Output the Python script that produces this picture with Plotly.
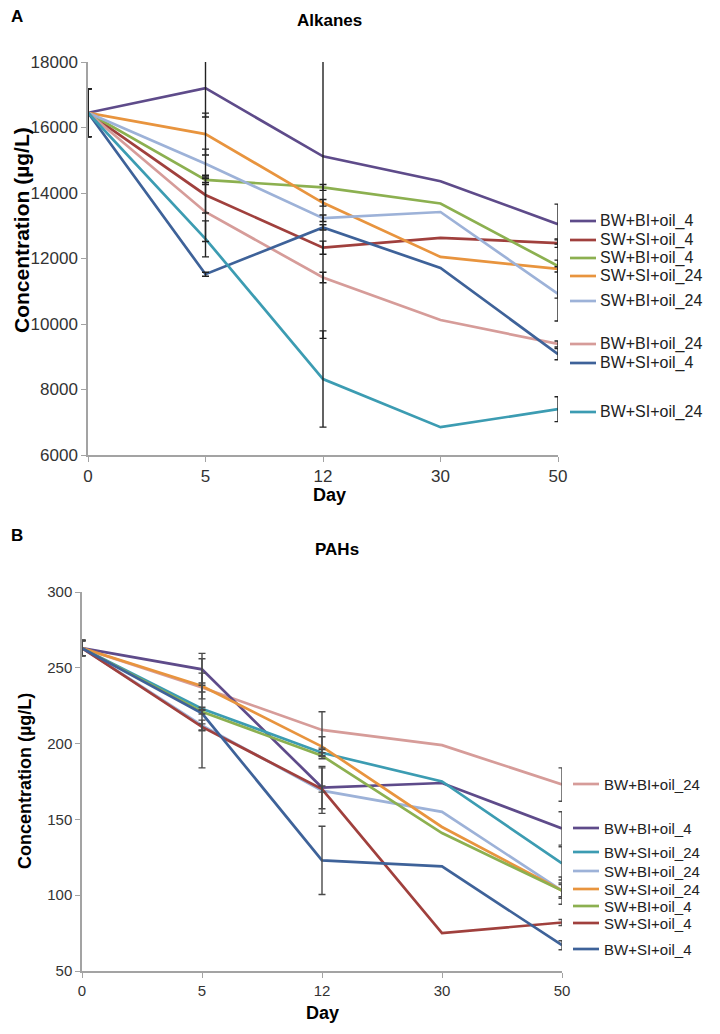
import plotly.graph_objects as go

# ---------------- data ----------------
days = ["0", "5", "12", "30", "50"]

# Panel A: Alkanes (µg/L)
a_names = ["BW+BI+oil_4", "SW+SI+oil_4", "SW+BI+oil_4", "SW+SI+oil_24",
           "SW+BI+oil_24", "BW+BI+oil_24", "BW+SI+oil_4", "BW+SI+oil_24"]
a_bw_bi_4 = [16450, 17200, 15120, 14360, 13050]
a_sw_si_4 = [16450, 13940, 12330, 12630, 12470]
a_sw_bi_4 = [16450, 14400, 14170, 13680, 11770]
a_sw_si_24 = [16450, 15800, 13700, 12050, 11680]
a_sw_bi_24 = [16450, 14890, 13230, 13420, 10920]
a_bw_bi_24 = [16450, 13420, 11420, 10120, 9390]
a_bw_si_4 = [16450, 11520, 12950, 11710, 9080]
a_bw_si_24 = [16450, 12600, 8320, 6850, 7400]

a_err_bw_bi_4 = [730, 880, 5560, None, 610]
a_err_sw_si_4 = [730, 550, 200, None, 130]
a_err_sw_bi_4 = [730, 140, 90, None, 180]
a_err_sw_si_24 = [730, 640, 100, None, 890]
a_err_sw_bi_24 = [730, 450, 100, None, 830]
a_err_bw_bi_24 = [730, 900, 160, None, 90]
a_err_bw_si_4 = [730, 60, 80, None, 170]
a_err_bw_si_24 = [730, 550, 1470, None, 380]

# Panel B: PAHs (µg/L)
b_names = ["BW+BI+oil_24", "BW+BI+oil_4", "BW+SI+oil_24", "SW+BI+oil_24",
           "SW+SI+oil_24", "SW+BI+oil_4", "SW+SI+oil_4", "BW+SI+oil_4"]
b_bw_bi_24 = [263, 237, 209, 199, 173]
b_bw_bi_4 = [263, 249, 171, 174, 144]
b_bw_si_24 = [263, 223, 194, 175, 121]
b_sw_bi_24 = [263, 212, 169, 155, 103]
b_sw_si_24 = [263, 238, 198, 145, 103]
b_sw_bi_4 = [263, 221, 192, 141, 103]
b_sw_si_4 = [263, 211, 170, 75, 82]
b_bw_si_4 = [263, 220, 123, 119, 67]

b_err_bw_bi_24 = [5, 3, 12, None, 11]
b_err_bw_bi_4 = [5, 10.5, 14, None, 11]
b_err_bw_si_24 = [5, 1, 2, None, 11]
b_err_sw_bi_24 = [5, 3.5, 15, None, 9]
b_err_sw_si_24 = [5, 8.5, 6.5, None, 5]
b_err_sw_bi_4 = [5, 1.5, 2, None, 4]
b_err_sw_si_4 = [5, 2, 2, None, 2]
b_err_bw_si_4 = [5, 36, 22.5, None, 3]

colors = {
    "BW+BI+oil_4": "#5E4B8A",
    "SW+SI+oil_4": "#A0403D",
    "SW+BI+oil_4": "#8CB050",
    "SW+SI+oil_24": "#E8943E",
    "SW+BI+oil_24": "#9DB2D8",
    "BW+BI+oil_24": "#D69C99",
    "BW+SI+oil_4": "#3E6299",
    "BW+SI+oil_24": "#3C9CB2",
}

a_vals = [a_bw_bi_4, a_sw_si_4, a_sw_bi_4, a_sw_si_24, a_sw_bi_24, a_bw_bi_24, a_bw_si_4, a_bw_si_24]
a_errs = [a_err_bw_bi_4, a_err_sw_si_4, a_err_sw_bi_4, a_err_sw_si_24, a_err_sw_bi_24,
          a_err_bw_bi_24, a_err_bw_si_4, a_err_bw_si_24]
b_vals = [b_bw_bi_24, b_bw_bi_4, b_bw_si_24, b_sw_bi_24, b_sw_si_24, b_sw_bi_4, b_sw_si_4, b_bw_si_4]
b_errs = [b_err_bw_bi_24, b_err_bw_bi_4, b_err_bw_si_24, b_err_sw_bi_24, b_err_sw_si_24,
          b_err_sw_bi_4, b_err_sw_si_4, b_err_bw_si_4]

# legend rows (pixel y of each entry) – layout only
a_legend_y = [221, 240, 258, 276, 301, 344, 363, 412]
b_legend_y = [784, 828, 852, 871, 889, 906, 923, 949]

# page offset of the plot div (default body margin)
OFF = 8
W, H = 720 - OFF, 1034 - OFF
FONT = "Liberation Sans, Arial, sans-serif"


def fx(px):
    return (px - OFF) / W


def fy(py):
    return 1 - (py - OFF) / H


fig = go.Figure()

panels = [
    ("x", "y", a_names, a_vals, a_errs, "#222222"),
    ("x2", "y2", b_names, b_vals, b_errs, "#4a4a4a"),
]

for xa, ya, names, vals, errs, ecol in panels:
    for name, v in zip(names, vals):
        fig.add_trace(go.Scatter(
            x=days, y=v, mode="lines", name=name, xaxis=xa, yaxis=ya,
            line=dict(color=colors[name], width=2.7), showlegend=False))
    for name, v, e in zip(names, vals, errs):
        ym = [yy if ee is not None else None for yy, ee in zip(v, e)]
        ea = [ee if ee is not None else 0 for ee in e]
        fig.add_trace(go.Scatter(
            x=days, y=ym, mode="markers", xaxis=xa, yaxis=ya, showlegend=False,
            marker=dict(size=1, color="rgba(0,0,0,0)"),
            error_y=dict(type="data", array=ea, visible=True, color=ecol,
                         thickness=1.4, width=3.5)))

axis_common = dict(showline=True, linecolor="#A3A3A3", linewidth=1.5, showgrid=False,
                   zeroline=False, ticks="outside", tickcolor="#A3A3A3", ticklen=5,
                   tickwidth=1.2, automargin=False)

fig.update_layout(
    template="none",
    width=W, height=H, margin=dict(l=0, r=0, t=0, b=0, pad=0, autoexpand=False),
    paper_bgcolor="white", plot_bgcolor="white",
    font=dict(family=FONT, color="#333333"),
    xaxis=dict(domain=[fx(88), fx(558)], anchor="y", type="category",
               categoryorder="array", categoryarray=days, range=[0, 4],
               tickfont=dict(size=17, color="#333333"), **axis_common),
    yaxis=dict(domain=[fy(455), fy(62)], anchor="x", range=[6000, 18000],
               tickvals=[6000, 8000, 10000, 12000, 14000, 16000, 18000],
               ticktext=["6000", "8000", "10000", "12000", "14000", "16000", "18000"],
               tickfont=dict(size=17, color="#333333"), **axis_common),
    xaxis2=dict(domain=[fx(82), fx(562)], anchor="y2", type="category",
                categoryorder="array", categoryarray=days, range=[0, 4],
                tickfont=dict(size=15, color="#333333"), **axis_common),
    yaxis2=dict(domain=[fy(971), fy(592)], anchor="x2", range=[50, 300],
                tickvals=[50, 100, 150, 200, 250, 300],
                tickfont=dict(size=15, color="#333333"), **axis_common),
)

ann = []
shapes = []


def text(px, py, t, size, bold=False, xanchor="center", angle=0):
    ann.append(dict(x=fx(px), y=fy(py), xref="paper", yref="paper", text=("<b>%s</b>" % t) if bold else t,
                    showarrow=False, xanchor=xanchor, yanchor="middle", textangle=angle,
                    font=dict(family=FONT, size=size, color="#000000" if bold else "#222222")))


# panel labels & titles
text(9, 16, "A", 17, bold=True, xanchor="left")
text(329, 20, "Alkanes", 17, bold=True)
text(22, 230, "Concentration (µg/L)", 21, bold=True, angle=-90)
text(329, 495, "Day", 18, bold=True)

text(9, 535, "B", 17, bold=True, xanchor="left")
text(337, 549, "PAHs", 17, bold=True)
text(25, 781, "Concentration (µg/L)", 18, bold=True, angle=-90)
text(322, 1013, "Day", 18, bold=True)

# legends
for names, ys, x0, x1, tx, fs in [(a_names, a_legend_y, 570, 596, 598, 16),
                                  (b_names, b_legend_y, 573, 599, 602, 15)]:
    for name, py in zip(names, ys):
        shapes.append(dict(type="line", xref="paper", yref="paper",
                           x0=fx(x0), x1=fx(x1), y0=fy(py), y1=fy(py),
                           line=dict(color=colors[name], width=2.7)))
        ann.append(dict(x=fx(tx), y=fy(py), xref="paper", yref="paper", text=name,
                        showarrow=False, xanchor="left", yanchor="middle",
                        font=dict(family=FONT, size=fs, color="#222222")))

fig.update_layout(annotations=ann, shapes=shapes)

fig.write_html("out.html")
